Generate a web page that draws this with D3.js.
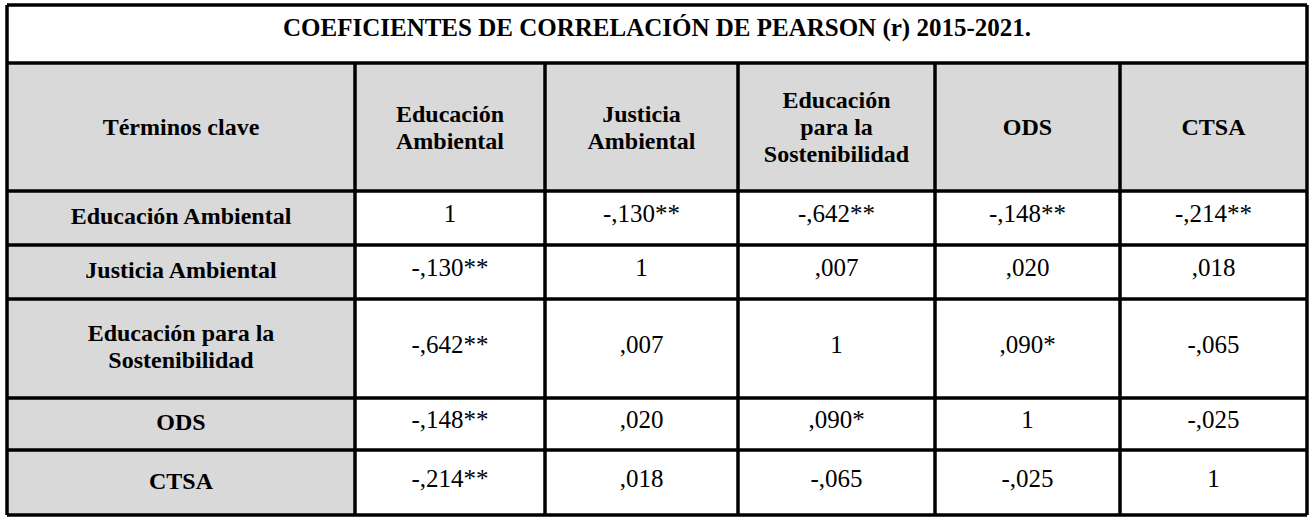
<!DOCTYPE html>
<html><head><meta charset="utf-8">
<script src="https://cdn.jsdelivr.net/npm/d3@7"></script>
<style>body{margin:0;background:#fff}</style></head>
<body><svg id="c" width="1314" height="520"></svg>
<script>
const title = "COEFICIENTES DE CORRELACIÓN DE PEARSON (r) 2015-2021.";
const corner = "Términos clave";
const colHeaders = [["Educación","Ambiental"],["Justicia","Ambiental"],["Educación","para la","Sostenibilidad"],["ODS"],["CTSA"]];
const rowHeaders = [["Educación Ambiental"],["Justicia Ambiental"],["Educación para la","Sostenibilidad"],["ODS"],["CTSA"]];
const values = [
  ["1","-,130**","-,642**","-,148**","-,214**"],
  ["-,130**","1",",007",",020",",018"],
  ["-,642**",",007","1",",090*","-,065"],
  ["-,148**",",020",",090*","1","-,025"],
  ["-,214**",",018","-,065","-,025","1"]
];
const colEdges = [7,355,545,738,935,1120,1307];
const rowEdges = [63,191,245,299,398,450,515];
const topY = 5;
const svg = d3.select("#c");
const font = "'Liberation Serif','Times New Roman',serif";
const gray = "#d9d9d9";
const x = i => colEdges[i];
const y = i => rowEdges[i];
svg.append("rect").attr("x",x(0)).attr("y",topY).attr("width",x(6)-x(0)).attr("height",y(0)-topY).attr("fill","#fff");
svg.append("text").attr("x",(x(0)+x(6))/2).attr("y",36).attr("text-anchor","middle")
  .attr("font-family",font).attr("font-weight","bold").attr("font-size",25).text(title);
function cell(ci,ri,lines,fill,bold,offset){
  const x0=x(ci),x1=x(ci+1),y0=y(ri),y1=y(ri+1);
  svg.append("rect").attr("x",x0).attr("y",y0).attr("width",x1-x0).attr("height",y1-y0).attr("fill",fill);
  const lh=27, cy=(y0+y1)/2 - (offset||0);
  const t=svg.append("text").attr("text-anchor","middle").attr("font-family",font)
    .attr("font-weight",bold?"bold":"normal").attr("font-size",bold?24:25);
  lines.forEach((l,k)=>t.append("tspan").attr("x",(x0+x1)/2)
    .attr("y",cy+(k-(lines.length-1)/2)*lh+8).text(l));
}
cell(0,0,[corner],gray,true);
colHeaders.forEach((h,i)=>cell(i+1,0,h,gray,true));
rowHeaders.forEach((h,r)=>{
  cell(0,r+1,h,gray,true,2);
  values[r].forEach((v,c)=>cell(c+1,r+1,[v],"#fff",false,4));
});
const g=svg.append("g").attr("stroke","#000").attr("stroke-width",3.5);
rowEdges.forEach(v=>g.append("line").attr("x1",x(0)).attr("x2",x(6)).attr("y1",v).attr("y2",v));
g.append("line").attr("x1",x(0)).attr("x2",x(6)).attr("y1",topY).attr("y2",topY);
colEdges.forEach((v,i)=>g.append("line").attr("x1",v).attr("x2",v)
  .attr("y1",(i===0||i===6)?topY:y(0)).attr("y2",y(6)));
</script></body></html>
